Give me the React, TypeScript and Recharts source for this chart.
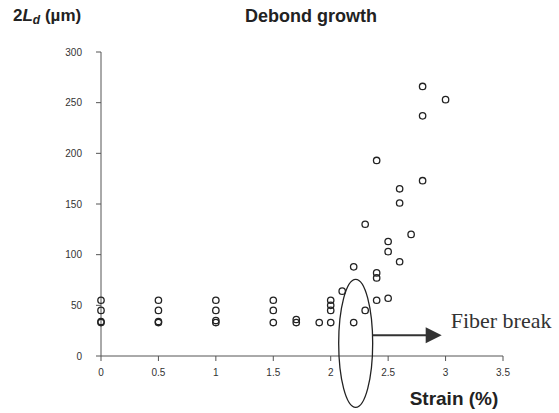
import React from 'react';
import { ScatterChart, Scatter, XAxis, YAxis, ReferenceDot } from 'recharts';

const strain = [
  0, 0, 0, 0,
  0.5, 0.5, 0.5, 0.5,
  1, 1, 1, 1,
  1.5, 1.5, 1.5,
  1.7, 1.7,
  1.9,
  2, 2, 2, 2,
  2.1,
  2.2, 2.2,
  2.3, 2.3,
  2.4, 2.4, 2.4, 2.4,
  2.5, 2.5, 2.5,
  2.6, 2.6, 2.6,
  2.7,
  2.8, 2.8, 2.8,
  3.0,
];
const debond = [
  55, 45, 34, 33,
  55, 45, 34, 33,
  55, 45, 35, 33,
  55, 45, 33,
  36, 33,
  33,
  55, 50, 45, 33,
  64,
  33, 88,
  45, 130,
  55, 77, 82, 193,
  57, 103, 113,
  93, 151, 165,
  120,
  173, 237, 266,
  253,
];
const xTicks = [0, 0.5, 1, 1.5, 2, 2.5, 3, 3.5];
const yTicks = [0, 50, 100, 150, 200, 250, 300];

const data = strain.map((s, i) => ({ x: s, y: debond[i] }));

const FONT = '"Liberation Sans", Arial, sans-serif';

const OpenCircle = (props: any) => (
  <circle cx={props.cx} cy={props.cy} r={3.2} fill="none" stroke="#222" strokeWidth={1.3} />
);

const Annotation = (props: any) => {
  const { cx, cy } = props;
  const ay = cy - 8;
  return (
    <g>
      <ellipse cx={cx + 2} cy={cy} rx={17} ry={64} fill="none" stroke="#222" strokeWidth={1.3} />
      <line x1={cx + 19} y1={ay} x2={cx + 74} y2={ay} stroke="#333" strokeWidth={2} />
      <polygon
        points={`${cx + 72},${ay - 8} ${cx + 88},${ay} ${cx + 72},${ay + 8}`}
        fill="#333"
      />
      <text
        x={cx + 97}
        y={cy - 15}
        fontFamily='"Liberation Serif", "Times New Roman", serif'
        fontSize={22}
        fill="#333"
      >
        Fiber break
      </text>
    </g>
  );
};

export default function App() {
  return (
    <div style={{ position: 'absolute', left: 0, top: 0, width: 559, height: 413, background: '#fff' }}>
      <ScatterChart
        width={559}
        height={413}
        margin={{ top: 52, right: 56, bottom: 27, left: 0 }}
      >
        <XAxis
          type="number"
          dataKey="x"
          domain={[0, 3.5]}
          ticks={xTicks}
          tickSize={5}
          tickMargin={8}
          stroke="#555"
          tick={{ fill: '#333', fontSize: 10, fontFamily: FONT }}
          height={30}
        />
        <YAxis
          type="number"
          dataKey="y"
          domain={[0, 300]}
          ticks={yTicks}
          width={101}
          tickSize={5}
          tickMargin={14}
          stroke="#555"
          tick={{ fill: '#333', fontSize: 10, fontFamily: FONT }}
        />
        <Scatter data={data} shape={OpenCircle} isAnimationActive={false} />
        <ReferenceDot x={2.2} y={12.5} ifOverflow="visible" shape={Annotation} />
      </ScatterChart>
      <svg
        width={559}
        height={413}
        style={{ position: 'absolute', left: 0, top: 0, pointerEvents: 'none' }}
      >
        <text x={13} y={21} fontFamily={FONT} fontWeight="bold" fontSize={17} fill="#222">
          2<tspan fontStyle="italic">L</tspan>
          <tspan fontStyle="italic" fontSize={12} dy={3}>d</tspan>
          <tspan dy={-3}> (µm)</tspan>
        </text>
        <text x={311} y={22} textAnchor="middle" fontFamily={FONT} fontWeight="bold" fontSize={18} fill="#222">
          Debond growth
        </text>
        <text x={454} y={405} textAnchor="middle" fontFamily={FONT} fontWeight="bold" fontSize={19} fill="#222">
          Strain (%)
        </text>
      </svg>
    </div>
  );
}
